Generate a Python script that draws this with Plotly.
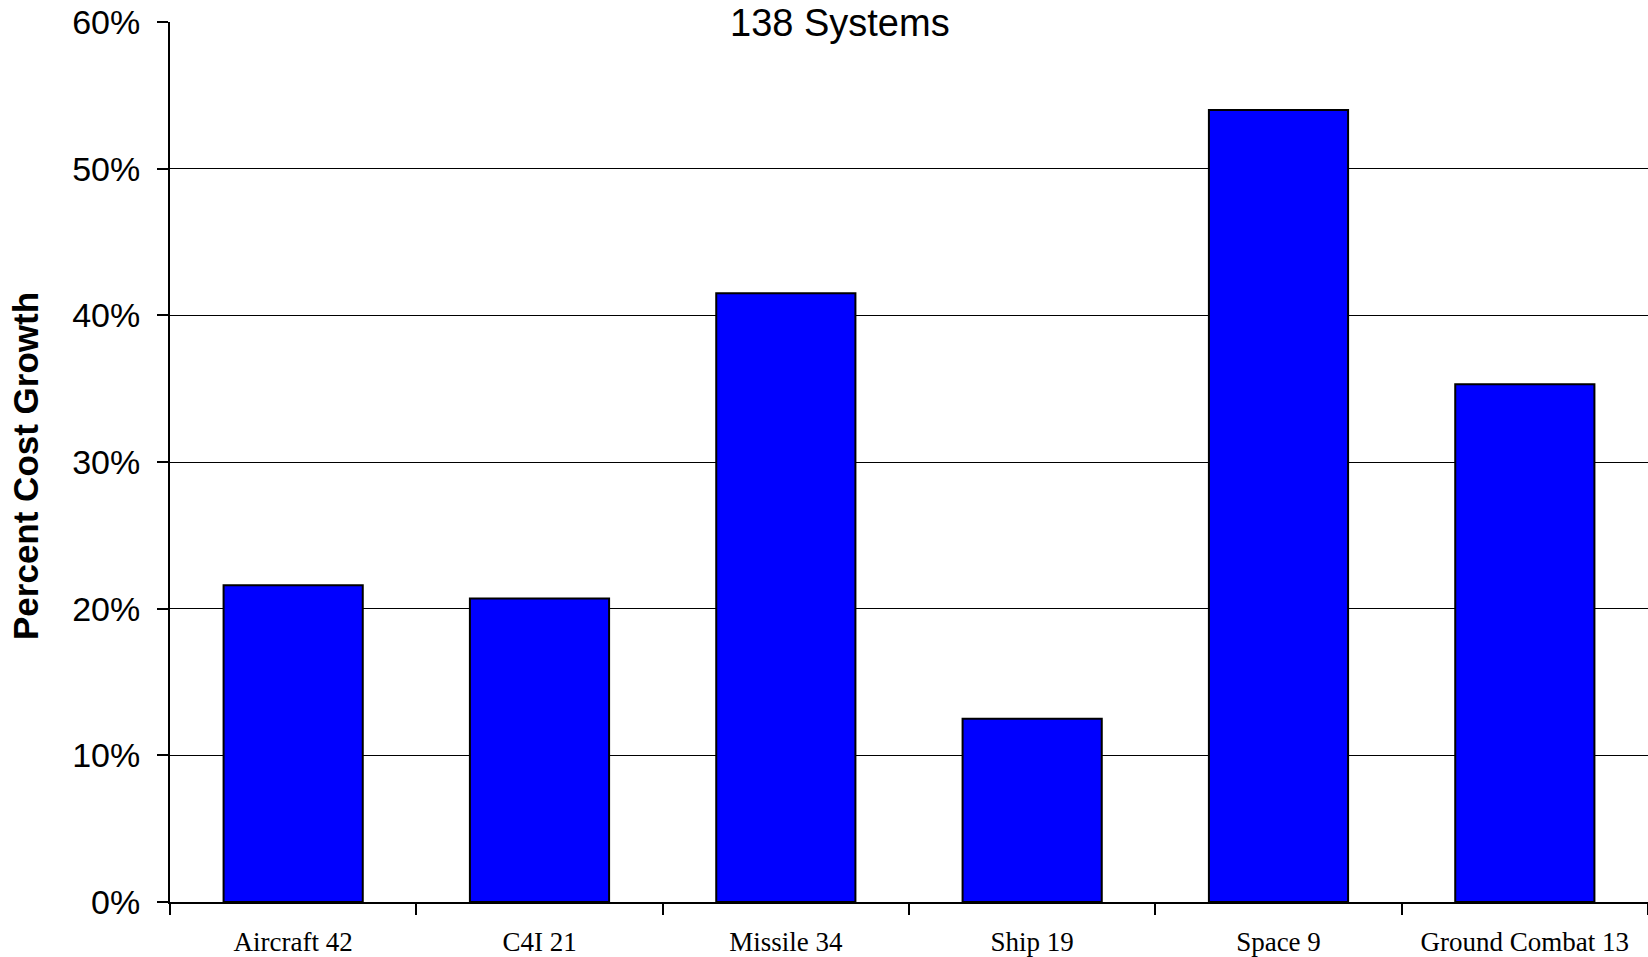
import plotly.graph_objects as go

categories = ["Aircraft 42", "C4I 21", "Missile 34", "Ship 19", "Space 9", "Ground Combat 13"]
growth = [0.216, 0.207, 0.415, 0.125, 0.540, 0.353]
y_ticks = [0, 0.1, 0.2, 0.3, 0.4, 0.5, 0.6]
title_text = "138 Systems"
y_title = "Percent Cost Growth"

W, H = 1648, 957
L, R, T, B = 170, 0, 22, 55
pw = W - L - R
ph = H - T - B

fig = go.Figure(go.Bar(
    x=categories, y=growth,
    marker=dict(color="#0000FF", line=dict(color="black", width=2)),
    width=0.565,
))

fig.update_layout(
    width=W, height=H,
    margin=dict(l=L, r=R, t=T, b=B),
    paper_bgcolor="white", plot_bgcolor="white",
    showlegend=False,
    annotations=[
        dict(text=title_text, x=(840 - L) / pw, y=1 + (T - 23) / ph, xref="paper", yref="paper",
             xanchor="center", yanchor="middle", showarrow=False,
             font=dict(family="Liberation Sans, Arial", size=38, color="black")),
        dict(text="<b>" + y_title + "</b>", x=(25 - L) / pw, y=(H - B - 466) / ph, xref="paper", yref="paper",
             xanchor="center", yanchor="middle", showarrow=False, textangle=-90,
             font=dict(family="Liberation Sans, Arial", size=35, color="black")),
    ],
)

fig.update_xaxes(
    type="category",
    showline=True, linecolor="black", linewidth=2,
    ticks="outside", tickson="boundaries", ticklen=11, tickwidth=2, tickcolor="black",
    showgrid=False,
    tickfont=dict(family="Liberation Serif, Times New Roman", size=27, color="black"),
    ticklabelstandoff=15,
)
fig.update_yaxes(
    range=[0, 0.6], tickvals=y_ticks, tickformat=".0%",
    showline=True, linecolor="black", linewidth=2,
    ticks="outside", ticklen=11, tickwidth=2, tickcolor="black",
    showgrid=True, gridcolor="black", gridwidth=1,
    zeroline=False,
    tickfont=dict(family="Liberation Sans, Arial", size=34, color="black"),
    ticklabelstandoff=10,
)

fig.write_html("out.html")
